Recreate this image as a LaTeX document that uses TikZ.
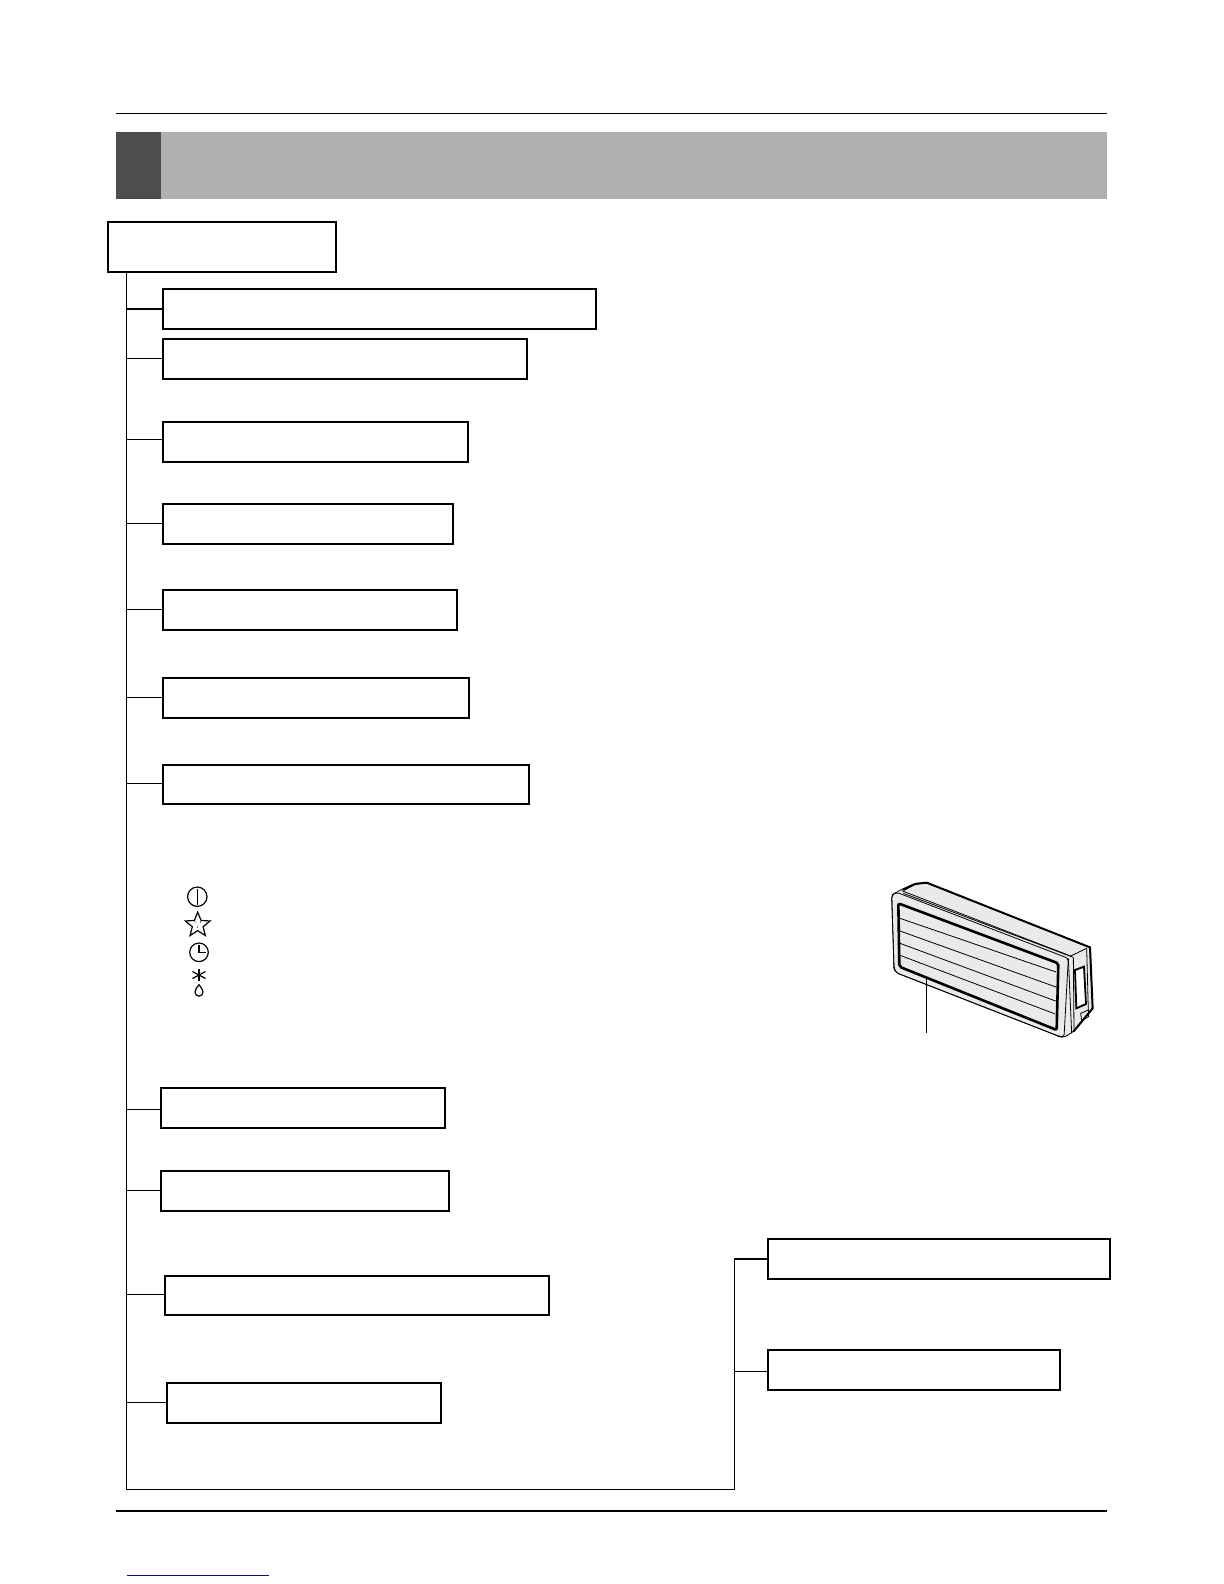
\documentclass[tikz,border=0pt]{standalone}
\usetikzlibrary{shapes.geometric}
\definecolor{barlight}{HTML}{B0B0B0}
\definecolor{bardark}{HTML}{4D4D4D}
\definecolor{unitgrey}{HTML}{EAEAEA}
\definecolor{linkblue}{HTML}{10107A}
\tikzset{
	lbox/.style={draw, fill=white, line width=1bp, inner sep=0, outer sep=0, anchor=north west},
	wire/.style={line width=0.6bp},
	rule/.style={line width=0.6bp},
	unit/.style={line width=0.4bp},
	symb/.style={line width=0.6bp}
}
\def\labelbox(#1)(#2,#3)(#4,#5){\node[lbox, minimum width={(#4-#2)*0.5bp}, minimum height={(#5-#3)*0.5bp}] (#1) at (#2,#3) {};}
\def\branch(#1)(#2){\coordinate (t#1) at (126.3,#2); \draw[wire] (t#1) -- (t#1 -| b#1.west);}

\begin{document}
\begin{tikzpicture}[x=0.5bp, y=-0.5bp]
		%%%%% START %%%%%
		\useasboundingbox (0, 0) rectangle (1224, 1584);
		
		\draw[rule] (115.5, 113.5) -- (1107, 113.5);
		\draw[rule] (115.5, 1511) -- (1107, 1511);
		\fill[barlight] (161, 132) rectangle (1107, 199);
		\fill[bardark] (115.5, 132) rectangle (161, 199);
		\draw[linkblue, line width=0.6bp] (127, 1575.3) -- (269, 1575.3);
		
		\labelbox(b0)(107.7, 222.3)(335.5, 271.5)
		\labelbox(b1)(162.7, 288.5)(596, 328.5)
		\labelbox(b2)(162.7, 339)(527.3, 379)
		\labelbox(b3)(162.7, 422)(468.3, 461.7)
		\labelbox(b4)(162.7, 504)(453.3, 544)
		\labelbox(b5)(162.7, 590)(457.3, 630)
		\labelbox(b6)(162.7, 677.7)(469.3, 718)
		\labelbox(b7)(162.7, 765)(529, 804.3)
		\labelbox(b8)(160.7, 1088)(445.3, 1128)
		\labelbox(b9)(160.7, 1170.7)(449.3, 1211)
		\labelbox(b10)(164.7, 1275.7)(549.3, 1315.3)
		\labelbox(b11)(167, 1383)(441.3, 1422.7)
		\labelbox(b12)(768, 1239)(1110, 1279)
		\labelbox(b13)(768, 1350)(1060, 1390)
		
		\coordinate (corner) at (126.3, 1489.3);
		\coordinate (elbow) at (734.7, 1489.3);
		\draw[wire] (corner |- b0.south) -- (corner) -- (elbow) -- (elbow |- b12.west) -- (b12.west);
		\coordinate (t13) at (734.7, 1371.3);
		\draw[wire] (t13) -- (t13 -| b13.west);
		
		\branch(1)(309)
		\branch(2)(358.3)
		\branch(3)(439.3)
		\branch(4)(523.3)
		\branch(5)(609.3)
		\branch(6)(697.3)
		\branch(7)(783.3)
		\branch(8)(1109.3)
		\branch(9)(1190.3)
		\branch(10)(1294.3)
		\branch(11)(1402.3)
		
		% symbols
		\draw[symb] (197.3, 896.7) circle (9.7);
		\draw[symb] (197.3, 888.5) -- (197.3, 905);
		\node[star, star points=5, star point ratio=2.3, draw, symb, inner sep=0, minimum size=13bp] (fav) at (197.7, 925) {};
		\fill (195, 922) circle (0.7);
		\fill (200.5, 922) circle (0.7);
		\fill (197.7, 927) circle (0.7);
		\draw[symb] (199, 952.3) circle (9.3);
		\draw[symb] (199, 945) -- (199, 952.3) -- (206, 952.3);
		\draw[symb] (199, 969) -- (199, 981);
		\draw[symb] (192.5, 971.5) -- (205.5, 978.5);
		\draw[symb] (192.5, 978.5) -- (205.5, 971.5);
		\draw[symb] (199, 984.5) .. controls (197, 988) and (195, 989) .. (195, 992) .. controls (195, 997.5) and (203, 997.5) .. (203, 992) .. controls (203, 989) and (201, 988) .. (199, 984.5);
		
		% indoor unit, drawn in 3x crop units
		\begin{scope}[shift={(860, 860)}, xscale=1/3, yscale=1/3]
			\draw[unit, fill=unitgrey, rounded corners=1.5bp] (95, 105) -- (125, 88) -- (165, 70) -- (200, 68) -- (690, 262) -- (698, 445) -- (640, 515) -- (612, 532) -- (600, 530) -- (108, 338) -- (102, 325) -- cycle;
			\draw[line width=1bp] (130, 90) -- (165, 72) -- (200, 68) -- (690, 262) -- (698, 445) -- (640, 515);
			\draw[unit, rounded corners=1.5bp] (95, 105) -- (102, 325) -- (108, 338) -- (600, 530) -- (612, 532) -- (625, 295) -- (110, 97) -- cycle;
			\draw[unit] (125, 92) -- (632, 288);
			\draw[unit] (130, 100) -- (640, 292);
			\draw[unit] (625, 295) -- (635, 520);
			\draw[unit] (640, 292) -- (642, 510);
			\draw[unit] (632, 288) -- (680, 265);
			\draw[unit] (680, 265) -- (685, 452);
			\draw[line width=1.3bp, rounded corners=1bp] (115, 130) -- (595, 310) -- (590, 510) -- (118, 320) -- cycle;
			\draw[unit] (120, 175) -- (588, 336);
			\draw[unit] (120, 213) -- (588, 381);
			\draw[unit] (120, 250) -- (587, 423);
			\draw[unit] (120, 286) -- (586, 462);
			\draw[line width=0.9bp, fill=white] (645, 330) -- (672, 320) -- (678, 432) -- (649, 445) -- cycle;
			\draw[unit] (662, 460) -- (685, 450) -- (686, 470) -- (665, 482) -- cycle;
		\end{scope}
		\coordinate (leadtop) at (926, 977);
		\coordinate (leadend) at (926, 1033);
		\draw[unit] (leadtop) -- (leadend);
		%%%%% END %%%%%
	\end{tikzpicture}
\end{document}
